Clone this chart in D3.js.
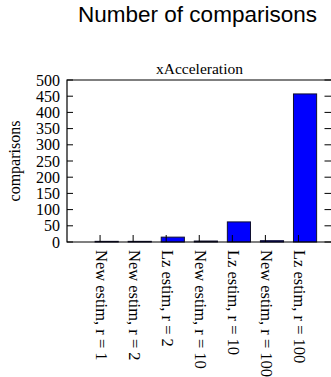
<!DOCTYPE html>
<html>
<head>
<meta charset="utf-8">
<script src="https://cdn.jsdelivr.net/npm/d3@7"></script>
<style>
  body { margin: 0; background: #fff; }
  svg { display: block; }
</style>
</head>
<body>
<svg></svg>
<script>
let width = 331, height = 377;
let svg = d3.select("svg")
    .attr("width", width)
    .attr("height", height);

// data
const categories = ["New estim, r = 1", "New estim, r = 2", "Lz estim, r = 2", "New estim, r = 10",
                    "Lz estim, r = 10", "New estim, r = 100", "Lz estim, r = 100"];
const comparisons = [2, 2, 15, 3, 62, 4, 457];
const yTicks = [0, 50, 100, 150, 200, 250, 300, 350, 400, 450, 500];

const plotLeft = 67, plotRight = 331.5, plotTop = 80, plotBottom = 242;

const x = d3.scalePoint()
    .domain(categories)
    .range([plotLeft, plotRight])
    .padding(1);
const step = x.step();

const y = d3.scaleLinear()
    .domain([0, 500])
    .range([plotBottom, plotTop]);

const serif = "'Liberation Serif', 'DejaVu Serif', serif";

// titles
svg.append("text")
    .attr("x", 197.5).attr("y", 22)
    .attr("text-anchor", "middle")
    .style("font-family", "'Liberation Sans', Arial, sans-serif")
    .style("font-size", "22.5px")
    .text("Number of comparisons");

svg.append("text")
    .attr("x", 199.5).attr("y", 74)
    .attr("text-anchor", "middle")
    .style("font-family", serif)
    .style("font-size", "15.5px")
    .text("xAcceleration");

// bars
svg.append("g")
    .selectAll("rect")
    .data(comparisons)
    .enter()
    .append("rect")
      .attr("x", (d, i) => x(categories[i]) - 0.15 * step)
      .attr("width", 0.7 * step)
      .attr("y", d => y(d))
      .attr("height", d => y(0) - y(d))
      .attr("fill", "#0000ff")
      .attr("stroke", "#101030")
      .attr("stroke-width", 1);

// frame
svg.append("path")
    .attr("d", `M${plotRight},${plotTop}H${plotLeft}V${plotBottom}H${plotRight}`)
    .attr("fill", "none")
    .attr("stroke", "#000")
    .attr("stroke-width", 1.2);

// y axis ticks (left and mirrored right)
let yg = svg.append("g");
yTicks.forEach(t => {
    yg.append("line")
        .attr("x1", plotLeft).attr("x2", plotLeft + 6)
        .attr("y1", y(t)).attr("y2", y(t))
        .attr("stroke", "#000");
    yg.append("line")
        .attr("x1", plotRight - 7).attr("x2", plotRight)
        .attr("y1", y(t)).attr("y2", y(t))
        .attr("stroke", "#000");
    yg.append("text")
        .attr("x", 60).attr("y", y(t))
        .attr("text-anchor", "end")
        .attr("dominant-baseline", "central")
        .style("font-family", serif)
        .style("font-size", "16px")
        .text(t);
});

// x axis ticks + rotated labels
let xg = svg.append("g");
categories.forEach(c => {
    xg.append("line")
        .attr("x1", x(c)).attr("x2", x(c))
        .attr("y1", plotBottom).attr("y2", plotBottom - 7)
        .attr("stroke", "#000");
    xg.append("text")
        .attr("transform", `translate(${x(c) + 1},${plotBottom + 8}) rotate(90)`)
        .attr("dominant-baseline", "central")
        .style("font-family", serif)
        .style("font-size", "16.5px")
        .text(c);
});

// y label
svg.append("text")
    .attr("transform", `translate(14,${(plotTop + plotBottom) / 2}) rotate(-90)`)
    .attr("text-anchor", "middle")
    .attr("dominant-baseline", "central")
    .style("font-family", serif)
    .style("font-size", "16px")
    .text("comparisons");
</script>
</body>
</html>
